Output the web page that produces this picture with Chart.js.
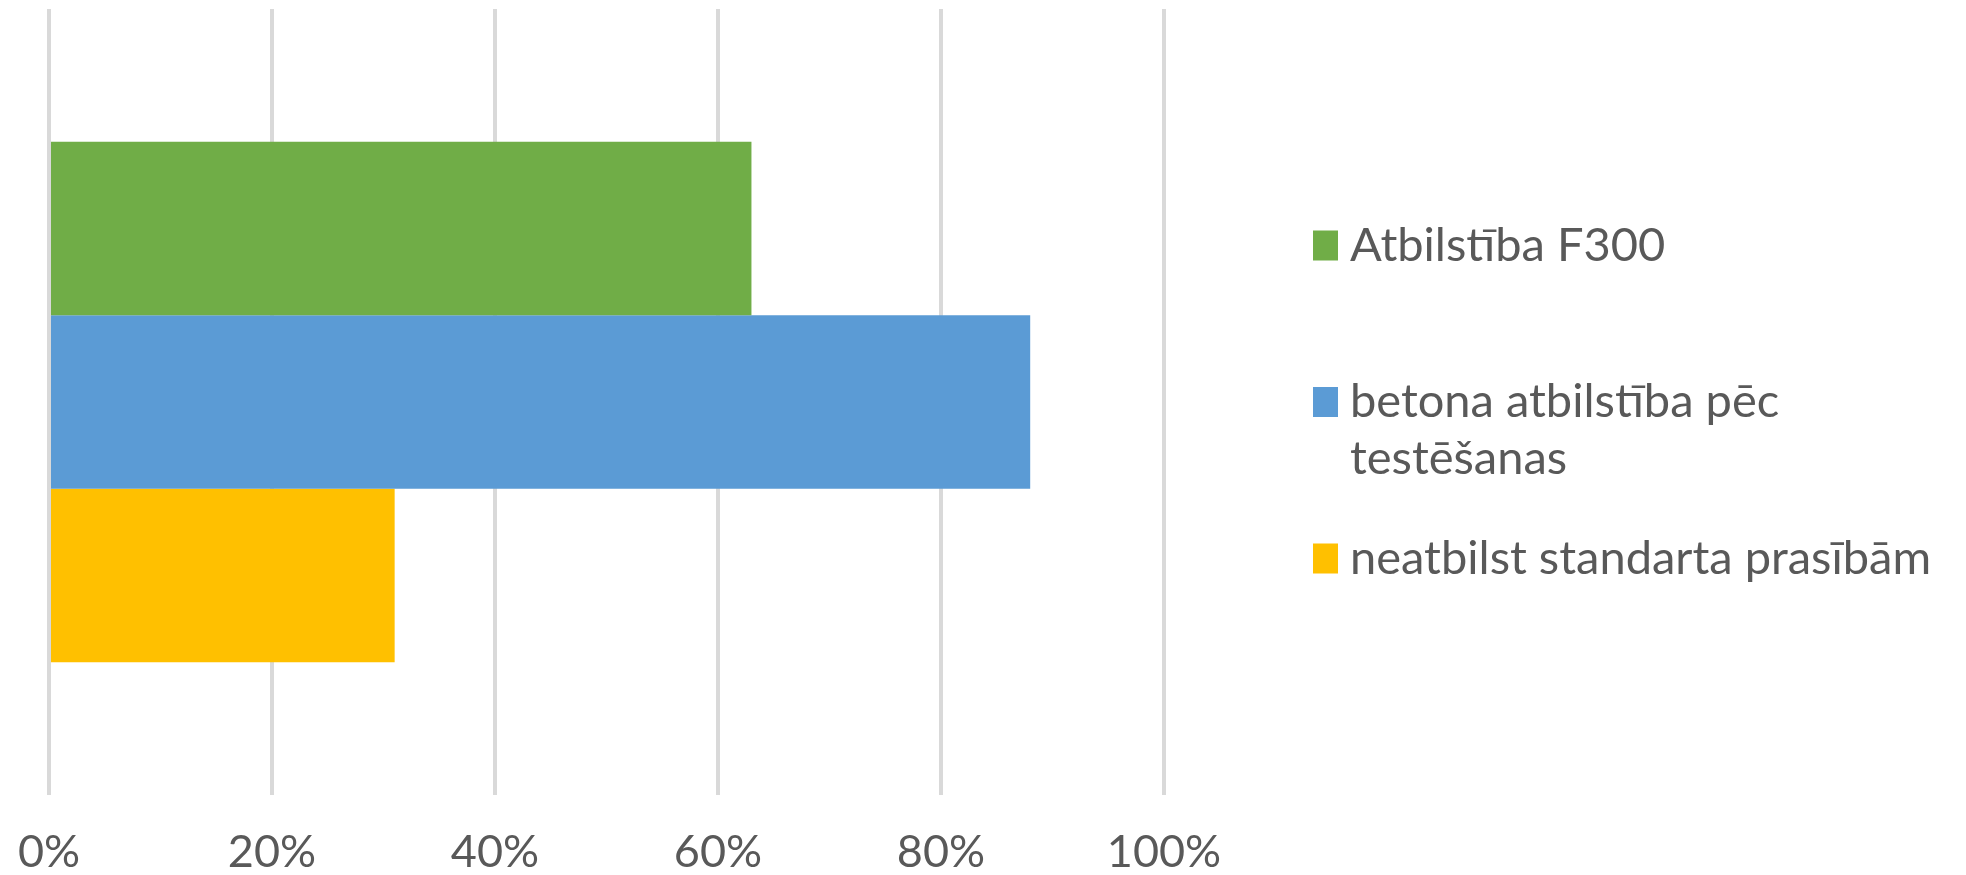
<!DOCTYPE html>
<html lang="lv">
<head>
<meta charset="utf-8">
<title>Betona atbilstība</title>
<script src="https://cdn.jsdelivr.net/npm/chart.js@4.4.1/dist/chart.umd.min.js"></script>
<style>
    html, body { margin: 0; padding: 0; background: #ffffff; }
    #chart { display: block; }
</style>
</head>
<body>
<canvas id="chart" width="1966" height="875"></canvas>
<script>
// Data
const categories = [''];
const seriesLabels = ['Atbilstība F300', 'betona atbilstība pēc testēšanas', 'neatbilst standarta prasībām'];
const seriesValues = [[63], [88], [31]];
const seriesColors = ['#70ad47', '#5b9bd5', '#ffc000'];
const xTicks = [0, 20, 40, 60, 80, 100];

const textColor = '#595959';
const fontFamily = 'Lato, "Open Sans", sans-serif';

// Legend drawn to the right of the plot, long labels wrapped over two lines
const sideLegend = {
    id: 'sideLegend',
    afterDraw(chart) {
        const ctx = chart.ctx;
        const area = chart.chartArea;
        const boxX = 1313, boxW = 25, boxH = 30;
        const textX = 1350;
        const maxWidth = chart.width - textX - 4;
        const lineHeight = 57;
        const itemGap = 156.5;
        const firstY = (area.top + area.bottom) / 2 - itemGap;

        ctx.save();
        ctx.font = '47px ' + fontFamily;
        ctx.textBaseline = 'middle';
        ctx.textAlign = 'left';

        chart.data.datasets.forEach((ds, i) => {
            const y = firstY + i * itemGap;
            ctx.fillStyle = ds.backgroundColor;
            ctx.fillRect(boxX, y - boxH / 2, boxW, boxH);

            ctx.fillStyle = textColor;
            wrapText(ctx, ds.label, maxWidth).forEach((line, n) => {
                ctx.fillText(line, textX, y + n * lineHeight);
            });
        });
        ctx.restore();
    }
};

// Split a label into lines that fit the given width
function wrapText(ctx, text, maxWidth) {
    const words = text.split(' ');
    const lines = [];
    let line = '';
    words.forEach(word => {
        const test = line ? line + ' ' + word : word;
        if (line && ctx.measureText(test).width > maxWidth) {
            lines.push(line);
            line = word;
        } else {
            line = test;
        }
    });
    if (line) lines.push(line);
    return lines;
}

const datasets = seriesLabels.map((label, i) => ({
    label: label,
    data: seriesValues[i],
    backgroundColor: seriesColors[i],
    borderWidth: 0,
    barPercentage: 1.0,
    categoryPercentage: 0.662
}));

new Chart(document.getElementById('chart').getContext('2d'), {
    type: 'bar',
    data: {
        labels: categories,
        datasets: datasets
    },
    options: {
        indexAxis: 'y',
        responsive: false,
        animation: false,
        layout: {
            padding: { left: 49, right: 802, top: 9, bottom: 0 }
        },
        plugins: {
            legend: { display: false },
            tooltip: { enabled: false }
        },
        scales: {
            x: {
                min: 0,
                max: 100,
                afterBuildTicks(axis) {
                    axis.ticks = xTicks.map(v => ({ value: v }));
                },
                afterFit(axis) {
                    // fixed axis band; labels fit inside the layout padding
                    axis.height = 80;
                    axis.paddingLeft = 0;
                    axis.paddingRight = 0;
                },
                grid: {
                    color: '#d9d9d9',
                    lineWidth: 4,
                    drawTicks: false
                },
                border: { display: false },
                ticks: {
                    padding: 35,
                    color: textColor,
                    font: { family: fontFamily, size: 45, lineHeight: 1 },
                    maxRotation: 0,
                    callback: v => v + '%'
                }
            },
            y: {
                display: false
            }
        }
    },
    plugins: [sideLegend]
});
</script>
</body>
</html>
